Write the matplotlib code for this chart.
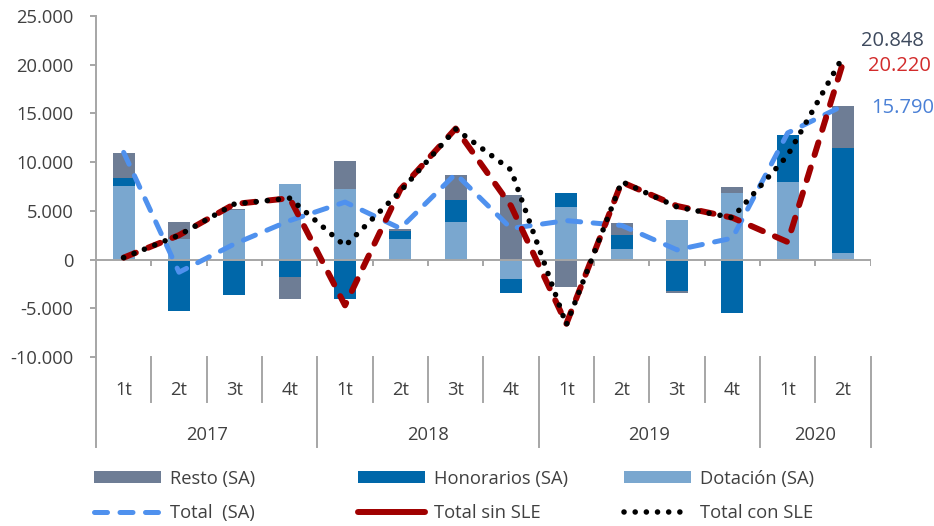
import matplotlib.pyplot as plt
import numpy as np
from matplotlib.lines import Line2D
from matplotlib.patches import Patch

plt.rcParams['font.family'] = ['Open Sans', 'DejaVu Sans']

# Data
quarters = ['1t', '2t', '3t', '4t', '1t', '2t', '3t', '4t', '1t', '2t', '3t', '4t', '1t', '2t']
years = ['2017', '2018', '2019', '2020']
year_sizes = [4, 4, 4, 2]

dotacion = np.array([7600, 2100, 5100, 7800, 7200, 2100, 3900, -2000, 5400, 1100, 4100, 6800, 8000, 700])
honorarios = np.array([800, -5250, -3600, -1750, -4050, 800, 2250, -1400, 1400, 1400, -3200, -5500, 4750, 10750])
resto = np.array([2500, 1800, 100, -2300, 2900, 200, 2500, 6600, -2800, 1300, -200, 600, 0, 4340])

total_sa = np.array([11000, -1300, 1600, 4000, 5900, 3200, 8800, 3200, 4000, 3500, 1000, 2200, 13000, 15790])
total_sin_sle = np.array([200, 2500, 5700, 6300, -4700, 7200, 13450, 5500, -6600, 7950, 5500, 4300, 1800, 20220])
total_con_sle = np.array([200, 2500, 5700, 6300, 1400, 7000, 13400, 9200, -6700, 8000, 5400, 4300, 10700, 20848])

# Colors
c_resto = '#6E7D95'
c_hon = '#0067A9'
c_dot = '#7AA7CF'
c_blue = '#4F91EE'
c_red = '#A00000'
c_axis = '#A6A6A6'
c_text = '#404040'
fs = 13.2

fig = plt.figure(figsize=(9.34, 5.26), dpi=100)
ax = fig.add_axes([96 / 934, 1 - 357 / 526, (870.7 - 96) / 934, 341 / 526])

x = np.arange(len(quarters))
width = 0.4

# stack positives and negatives separately (Dotación, Honorarios, Resto)
pos_base = np.zeros(len(x))
neg_base = np.zeros(len(x))
for vals, col in [(dotacion, c_dot), (honorarios, c_hon), (resto, c_resto)]:
    pos = np.where(vals > 0, vals, 0)
    neg = np.where(vals < 0, vals, 0)
    ax.bar(x, pos, width, bottom=pos_base, color=col, zorder=2)
    ax.bar(x, neg, width, bottom=neg_base, color=col, zorder=2)
    pos_base += pos
    neg_base += neg

ax.plot(x, total_sa, color=c_blue, lw=3.6, linestyle=(0, (2.6, 2.5)),
        dash_capstyle='round', zorder=4)
ax.plot(x, total_sin_sle, color=c_red, lw=4.3, linestyle=(0, (2.2, 2.2)),
        dash_capstyle='round', zorder=5)
ax.plot(x, total_con_sle, color='black', lw=4.0, linestyle=(0, (0.01, 2.0)),
        dash_capstyle='round', zorder=6)

# End value labels
ax.text(13.32, 22430, '20.848', color='#3E4A5E', fontsize=14.5, va='center', ha='left')
ax.text(13.46, 19860, '20.220', color='#D22B2B', fontsize=14.5, va='center', ha='left')
ax.text(13.51, 15530, '15.790', color='#4A80D6', fontsize=14.5, va='center', ha='left')

ax.set_xlim(-0.5, len(x) - 0.5)
ax.set_ylim(-10000, 25000)
ax.set_yticks(np.arange(-10000, 25001, 5000))
ax.set_yticklabels([f'{int(v):,}'.replace(',', '.') for v in np.arange(-10000, 25001, 5000)])
ax.tick_params(axis='y', length=4.3, width=1.4, color=c_axis, pad=12,
               labelsize=fs, labelcolor=c_text)
ax.set_xticks([])
for s in ['top', 'right', 'bottom']:
    ax.spines[s].set_visible(False)
ax.spines['left'].set_color(c_axis)
ax.spines['left'].set_linewidth(1.4)

# zero line with category ticks
ax.axhline(0, color=c_axis, lw=1.4, zorder=3)
bounds = np.arange(len(x) + 1) - 0.5
ax.vlines(bounds[1:], -700, 0, color=c_axis, lw=1.4, zorder=3)

# two-level category axis below the plot
trans = ax.get_xaxis_transform()
ax.plot([-0.5, -0.5], [0, -0.264], color=c_axis, lw=1.4, transform=trans, clip_on=False)
year_edges = np.cumsum(year_sizes)
for i, b in enumerate(bounds[1:], start=1):
    low = -0.264 if i in year_edges else -0.132
    ax.plot([b, b], [0, low], color=c_axis, lw=1.4, transform=trans, clip_on=False)
for xi, q in zip(x, quarters):
    ax.text(xi, -0.097, q, transform=trans, ha='center', va='center',
            fontsize=fs, color=c_text)
start = 0
for yr, n in zip(years, year_sizes):
    ax.text(start + (n - 1) / 2, -0.229, yr, transform=trans, ha='center', va='center',
            fontsize=fs, color=c_text)
    start += n

# Legend: three columns placed by hand
h_resto = Patch(facecolor=c_resto)
h_hon = Patch(facecolor=c_hon)
h_dot = Patch(facecolor=c_dot)
h_tot = Line2D([], [], color=c_blue, lw=3.6, linestyle=(0, (2.6, 2.5)), dash_capstyle='round')
h_sin = Line2D([], [], color=c_red, lw=4.3, solid_capstyle='round')
h_con = Line2D([], [], color='black', lw=4.0, linestyle=(0, (0.01, 2.0)), dash_capstyle='round')

columns = [([h_resto, h_tot], ['Resto (SA)', 'Total  (SA)'], 94),
           ([h_hon, h_sin], ['Honorarios (SA)', 'Total sin SLE'], 358),
           ([h_dot, h_con], ['Dotación (SA)', 'Total con SLE'], 624)]
for handles, labels, xpix in columns:
    leg = fig.legend(handles, labels, loc='center left',
                     bbox_to_anchor=(xpix / 934, 1 - 496 / 526),
                     frameon=False, fontsize=fs, handlelength=3.65, handleheight=0.6,
                     handletextpad=0.5, labelspacing=0.9, borderpad=0, borderaxespad=0)
    for t in leg.get_texts():
        t.set_color(c_text)

fig.savefig('out.png', dpi=100, facecolor='white')
